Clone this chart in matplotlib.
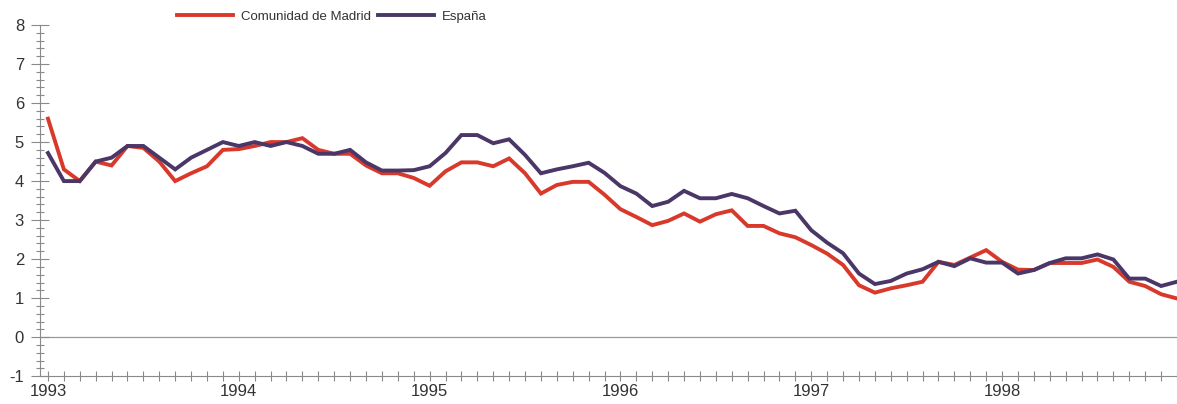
import numpy as np
import matplotlib
matplotlib.use("Agg")
import matplotlib.pyplot as plt
from matplotlib.ticker import MultipleLocator, FixedLocator

plt.rcParams['font.family'] = ['Liberation Sans', 'DejaVu Sans']
plt.rcParams['axes.unicode_minus'] = False

# monthly values, Jan 1993 - Dec 1998
years = [1993, 1994, 1995, 1996, 1997, 1998]
madrid = [5.6, 4.3, 4.0, 4.5, 4.4, 4.9, 4.85, 4.5, 4.0, 4.2, 4.38, 4.8,
          4.82, 4.9, 5.0, 5.0, 5.1, 4.8, 4.7, 4.7, 4.4, 4.2, 4.2, 4.08,
          3.88, 4.25, 4.48, 4.48, 4.38, 4.58, 4.2, 3.68, 3.9, 3.98, 3.98, 3.65,
          3.28, 3.08, 2.87, 2.98, 3.17, 2.96, 3.15, 3.25, 2.85, 2.85, 2.66, 2.56,
          2.36, 2.14, 1.85, 1.33, 1.14, 1.25, 1.33, 1.42, 1.93, 1.85, 2.04, 2.23,
          1.93, 1.73, 1.72, 1.9, 1.9, 1.9, 1.99, 1.8, 1.42, 1.31, 1.1, 0.99]
espana = [4.72, 4.0, 4.0, 4.5, 4.6, 4.9, 4.9, 4.6, 4.3, 4.6, 4.8, 5.0,
          4.9, 5.0, 4.9, 5.0, 4.9, 4.7, 4.7, 4.8, 4.48, 4.27, 4.27, 4.28,
          4.38, 4.72, 5.18, 5.18, 4.97, 5.07, 4.67, 4.2, 4.3, 4.38, 4.47, 4.21,
          3.87, 3.68, 3.36, 3.47, 3.75, 3.56, 3.56, 3.67, 3.56, 3.36, 3.17, 3.24,
          2.74, 2.42, 2.15, 1.63, 1.36, 1.44, 1.63, 1.74, 1.93, 1.82, 2.02, 1.91,
          1.91, 1.63, 1.72, 1.9, 2.02, 2.02, 2.12, 1.99, 1.5, 1.5, 1.31, 1.42]
labels = ['Comunidad de Madrid', 'España']

months = np.arange(len(madrid))
red = '#d8392b'
purple = '#4a3768'
axis_col = '#8a8a8a'

fig = plt.figure(figsize=(11.77, 4.04), dpi=100)
ax = fig.add_axes([0.034, 0.069, 0.966, 0.869])

ax.plot(months, madrid, color=red, lw=2.8, label=labels[0], solid_joinstyle='miter')
ax.plot(months, espana, color=purple, lw=2.8, label=labels[1], solid_joinstyle='miter')
ax.axhline(0, color='#9a9a9a', lw=0.9, zorder=0)

ax.set_xlim(-0.5, 71)
ax.set_ylim(-1, 8)

ax.xaxis.set_major_locator(FixedLocator(np.arange(0, 72, 12)))
ax.set_xticklabels([str(y) for y in years])
ax.xaxis.set_minor_locator(MultipleLocator(1))
ax.yaxis.set_major_locator(MultipleLocator(1))
ax.yaxis.set_minor_locator(MultipleLocator(0.2))

ax.tick_params(axis='x', which='both', direction='inout', length=7, width=0.8,
               color=axis_col, pad=2, labelsize=12, labelcolor='#333333')
ax.tick_params(axis='y', which='major', direction='inout', length=13, width=0.8,
               color=axis_col, pad=5, labelsize=12, labelcolor='#333333')
ax.tick_params(axis='y', which='minor', direction='inout', length=6, width=0.8,
               color=axis_col)

for side in ['top', 'right']:
    ax.spines[side].set_visible(False)
for side in ['left', 'bottom']:
    ax.spines[side].set_color(axis_col)
    ax.spines[side].set_linewidth(0.8)

fig.legend(loc='center', bbox_to_anchor=(0.282, 0.958), ncol=2, frameon=False,
           fontsize=9.5, handlelength=4.2, columnspacing=0.6, handletextpad=0.6,
           labelcolor='#333333')

fig.savefig('out.png', dpi=100, facecolor='white')
